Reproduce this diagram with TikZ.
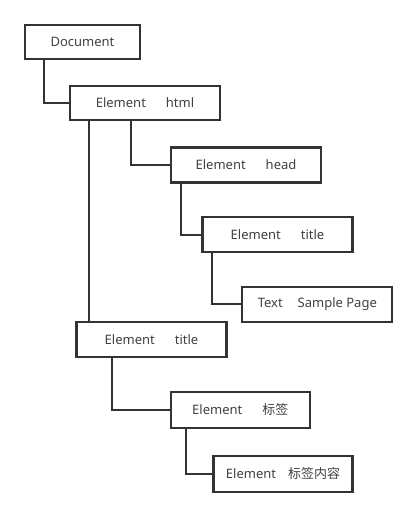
\documentclass[tikz,border=0pt]{standalone}
\usepackage{fontspec}
\setmainfont{Noto Sans}
\newfontfamily\cjk{Noto Sans CJK SC}
\definecolor{boxline}{HTML}{333333}
\definecolor{txt}{HTML}{404040}
\begin{document}
\begin{tikzpicture}[x=1pt,y=-1pt,
  box/.style={draw=boxline,line width=2.2pt,fill=white,inner sep=0pt,minimum height=35pt,
    text=txt,font=\fontsize{13}{15}\selectfont},
  link/.style={draw=boxline,line width=2pt}]
\useasboundingbox (0,0) rectangle (416,516);
\node[box,minimum width=115pt,minimum height=34pt] (doc) at (82.5,42) {Document};
\node[box,minimum width=150pt,minimum height=34pt] (html) at (145,103) {Element\hspace{20pt}html};
\node[box,minimum width=150pt] (head) at (246,165) {Element\hspace{20pt}head};
\node[box,minimum width=150pt] (title1) at (277.5,234.5) {Element\hspace{20pt}title};
\node[box,minimum width=150pt] (text) at (317.3,304.3) {Text\hspace{15pt}Sample Page};
\node[box,minimum width=150pt] (title2) at (151.5,339.5) {Element\hspace{20pt}title};
\node[box,minimum width=139pt,minimum height=36pt] (bq) at (240.3,410) {Element\hspace{20pt}{\cjk 标签}};
\node[box,minimum width=139pt,minimum height=36pt] (bqnr) at (283,474) {Element\hspace{12pt}{\cjk 标签内容}};
\draw[link] ([xshift=19.7pt]doc.south west) |- (html.west);
\draw[link] ([xshift=61.7pt]html.south west) |- (head.west);
\draw[link] ([xshift=20.3pt]html.south west) -- ([xshift=20.3pt]html.south west |- title2.north);
\draw[link] ([xshift=11.3pt]head.south west) |- (title1.west);
\draw[link] ([xshift=11pt]title1.south west) |- (text.west);
\draw[link] ([xshift=36.6pt]title2.south west) |- (bq.west);
\draw[link] ([xshift=16pt]bq.south west) |- (bqnr.west);
\end{tikzpicture}
\end{document}
